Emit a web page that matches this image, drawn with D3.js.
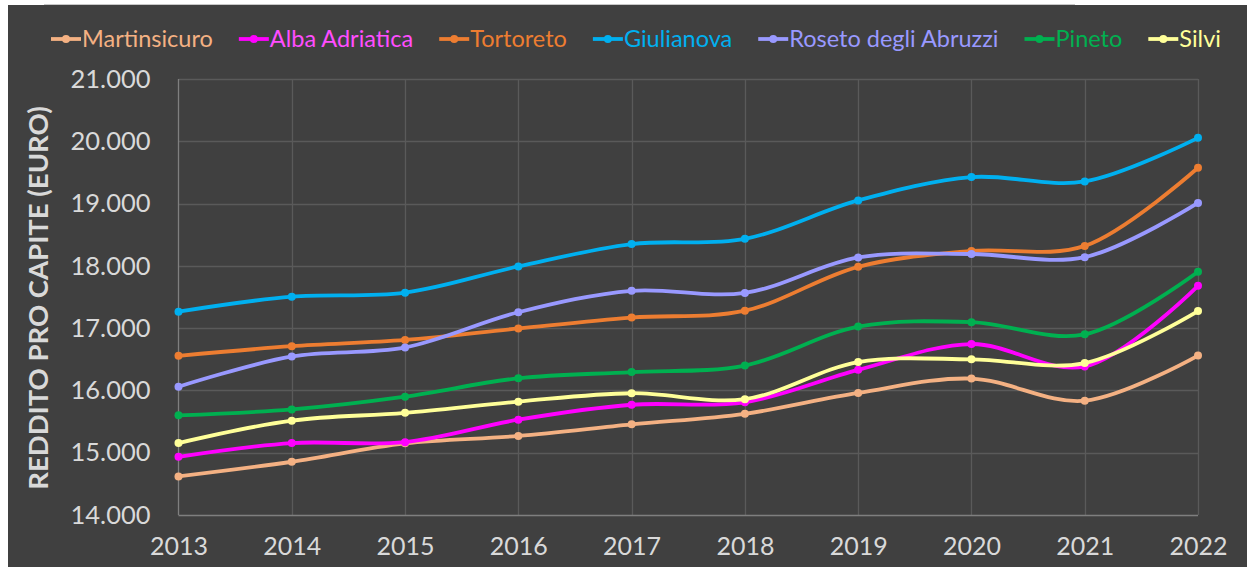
<!DOCTYPE html>
<html>
<head>
<meta charset="utf-8">
<script src="https://cdnjs.cloudflare.com/ajax/libs/d3/7.8.5/d3.min.js"></script>
<style>
  body { margin: 0; background: #ffffff; }
  svg { display: block; }
</style>
</head>
<body>
<svg id="chart" width="1247" height="567"></svg>
<script>
// data
const years = [2013, 2014, 2015, 2016, 2017, 2018, 2019, 2020, 2021, 2022];
const seriesNames = ["Martinsicuro", "Alba Adriatica", "Tortoreto", "Giulianova", "Roseto degli Abruzzi", "Pineto", "Silvi"];
const martinsicuro = [14620, 14855, 15150, 15270, 15455, 15625, 15960, 16190, 15835, 16560];
const albaAdriatica = [14935, 15155, 15170, 15530, 15770, 15810, 16330, 16745, 16385, 17680];
const tortoreto = [16555, 16710, 16810, 16995, 17170, 17280, 17985, 18240, 18320, 19575];
const giulianova = [17265, 17505, 17570, 17990, 18350, 18435, 19050, 19425, 19355, 20055];
const roseto = [16060, 16545, 16690, 17255, 17600, 17565, 18135, 18190, 18140, 19010];
const pineto = [15600, 15695, 15900, 16195, 16295, 16400, 17025, 17095, 16900, 17905];
const silvi = [15155, 15515, 15640, 15820, 15955, 15860, 16455, 16500, 16440, 17275];
const yTicks = [14000, 15000, 16000, 17000, 18000, 19000, 20000, 21000];

const colors = ["#f4b183", "#ff00ff", "#ed7d31", "#00b0f0", "#9999ff", "#00b050", "#ffff99"];
const legendTextColors = ["#f4b183", "#ff4dff", "#ed7d31", "#00b0f0", "#9999ff", "#00b050", "#ffff99"];

const allValues = [martinsicuro, albaAdriatica, tortoreto, giulianova, roseto, pineto, silvi];
const series = seriesNames.map((name, i) => ({
  name: name,
  color: colors[i],
  textColor: legendTextColors[i],
  values: years.map((yr, j) => ({ year: yr, value: allValues[i][j] }))
}));

const width = 1247;
const height = 567;
const margin = { top: 79, right: 49, bottom: 52, left: 178.5 };
const font = "Lato, 'Open Sans', sans-serif";

const svg = d3.select("#chart");

// dark panel
svg.append("rect")
  .attr("x", 8).attr("y", 5)
  .attr("width", width - 8).attr("height", height - 5)
  .attr("fill", "#404040");
svg.append("line")
  .attr("x1", 44).attr("x2", 1075).attr("y1", 4.5).attr("y2", 4.5)
  .attr("stroke", "#c8c8c8").attr("stroke-width", 1);

const x = d3.scalePoint()
  .domain(years)
  .range([margin.left, width - margin.right]);

const y = d3.scaleLinear()
  .domain([14000, 21000])
  .range([height - margin.bottom, margin.top]);

const fmt = d3.formatLocale({ decimal: ",", thousands: ".", grouping: [3], currency: ["", "€"] }).format(",");

// horizontal grid
svg.append("g")
  .selectAll("line")
  .data(yTicks.slice(1))
  .join("line")
  .attr("x1", margin.left).attr("x2", x(2022))
  .attr("y1", d => Math.round(y(d)) + 0.5).attr("y2", d => Math.round(y(d)) + 0.5)
  .attr("stroke", "#5a5a5a").attr("stroke-width", 1.3);

// vertical grid
svg.append("g")
  .selectAll("line")
  .data(years.slice(1))
  .join("line")
  .attr("x1", d => Math.round(x(d)) + 0.5).attr("x2", d => Math.round(x(d)) + 0.5)
  .attr("y1", y(21000)).attr("y2", y(14000))
  .attr("stroke", "#5a5a5a").attr("stroke-width", 1.3);

// axis lines
svg.append("line")
  .attr("x1", margin.left).attr("x2", margin.left)
  .attr("y1", y(21000)).attr("y2", y(14000))
  .attr("stroke", "#7f7f7f").attr("stroke-width", 1.3);
svg.append("line")
  .attr("x1", margin.left).attr("x2", x(2022))
  .attr("y1", Math.round(y(14000)) + 0.5).attr("y2", Math.round(y(14000)) + 0.5)
  .attr("stroke", "#7f7f7f").attr("stroke-width", 1.3);

// y axis labels
const yAxis = g => g
  .attr("transform", `translate(${margin.left},0)`)
  .call(d3.axisLeft(y).tickValues(yTicks).tickFormat(fmt).tickSize(0).tickPadding(28))
  .call(g => g.select(".domain").remove())
  .call(g => g.selectAll("text")
    .attr("fill", "#d9d9d9")
    .style("font-family", font)
    .style("font-size", "25.5px"));
svg.append("g").call(yAxis);

// x axis labels
const xAxis = g => g
  .attr("transform", `translate(0,${height - margin.bottom})`)
  .call(d3.axisBottom(x).tickSize(0).tickPadding(22))
  .call(g => g.select(".domain").remove())
  .call(g => g.selectAll("text")
    .attr("fill", "#d9d9d9")
    .style("font-family", font)
    .style("font-size", "25px"));
svg.append("g").call(xAxis);

// y title
svg.append("text")
  .attr("transform", `translate(48,${(y(14000) + y(21000)) / 2 + 1}) rotate(-90)`)
  .attr("text-anchor", "middle")
  .attr("fill", "#d9d9d9")
  .style("font-family", font)
  .style("font-weight", "bold")
  .style("font-size", "27.5px")
  .text("REDDITO PRO CAPITE (EURO)");

// lines
const line = d3.line()
  .x(d => x(d.year))
  .y(d => y(d.value))
  .curve(d3.curveCatmullRom.alpha(0.5));

const plot = svg.append("g").attr("class", "plot-area");

series.forEach(s => {
  plot.append("path")
    .datum(s.values)
    .attr("fill", "none")
    .attr("stroke", s.color)
    .attr("stroke-width", 3.8)
    .attr("stroke-linejoin", "round")
    .attr("d", line);
  plot.append("g")
    .selectAll("circle")
    .data(s.values)
    .join("circle")
    .attr("cx", d => x(d.year))
    .attr("cy", d => y(d.value))
    .attr("r", 4)
    .attr("fill", s.color);
});

// legend
const legend = svg.append("g").attr("transform", "translate(51,39)");
let lx = 0;
series.forEach(s => {
  const item = legend.append("g").attr("transform", `translate(${lx},0)`);
  item.append("line")
    .attr("x1", 0).attr("x2", 30).attr("y1", 0).attr("y2", 0)
    .attr("stroke", s.color).attr("stroke-width", 3.8);
  item.append("circle")
    .attr("cx", 15).attr("cy", 0).attr("r", 4).attr("fill", s.color);
  const t = item.append("text")
    .attr("x", 31).attr("y", 0)
    .attr("dy", "0.35em")
    .attr("fill", s.textColor)
    .style("font-family", font)
    .style("font-size", "23.5px")
    .text(s.name);
  lx += 31 + t.node().getComputedTextLength() + 26;
});
</script>
</body>
</html>
